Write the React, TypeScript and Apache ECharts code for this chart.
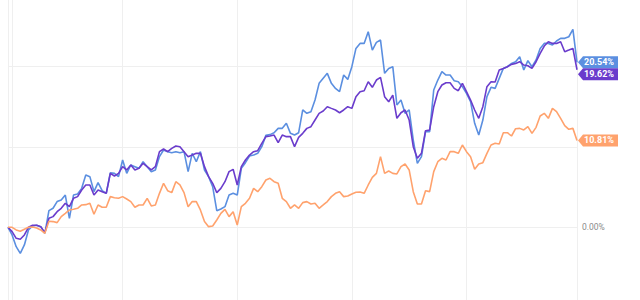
import React, { useEffect, useRef } from "react";
import * as echarts from "echarts";

const blueValues = [
  0, -0.95, -2.41, -3.24, -2.2, -0.33, 0.17, 0.25, 0.08, -0.75,
  2.07, 2.37, 3.2, 3.4, 4.02, 1.12, 4.02, 4.15, 4.85, 6.51,
  6.31, 4.44, 5.56, 4.56, 4.23, 6.8, 6.72, 6.31, 8.38, 6.72,
  7.76, 7.55, 7.34, 8.17, 7.55, 6.93, 7.14, 8.8, 9.63, 9.42,
  9.29, 9.42, 9.29, 9.42, 6.93, 9.21, 8.17, 9.42, 7.14, 6.31,
  5.06, 2.07, 2.28, 2.57, 4.02, 4.23, 4.02, 7.34, 8.05, 8.88,
  9.0, 9.21, 10.04, 11.45, 11.54, 11.78, 12.32, 12.32, 12.95, 11.7,
  11.49, 11.78, 14.61, 14.19, 14.4, 15.85, 17.93, 18.55, 19.17, 17.93,
  17.3, 16.89, 18.96, 18.42, 20.0, 22.28, 22.9, 22.9, 24.36, 22.07,
  23.03, 23.32, 19.17, 19.79, 20.0, 15.23, 15.85, 14.19, 14.61, 10.87,
  7.97, 8.8, 11.91, 11.91, 17.1, 18.34, 19.38, 18.96, 18.96, 18.26,
  18.13, 17.51, 16.68, 15.64, 12.95, 11.49, 13.36, 16.27, 17.43, 17.3,
  18.55, 19.79, 20.0, 20.41, 20.62, 21.24, 19.59, 20.75, 20.0, 20.83,
  22.28, 22.9, 22.9, 22.7, 23.2, 23.53, 23.53, 23.73, 24.65, 20.54,
];

const purpleValues = [
  0, -0.54, -1.37, -1.49, -0.95, 0, 0.25, 0.25, 0.08, -0.66,
  1.12, 1.33, 1.95, 2.37, 2.99, 2.57, 3.61, 3.82, 4.65, 5.27,
  5.27, 4.02, 4.65, 4.44, 4.23, 6.72, 6.39, 6.72, 7.55, 7.14,
  7.76, 7.14, 7.34, 7.97, 7.55, 7.14, 7.55, 9.42, 9.75, 9.42,
  9.83, 10.12, 10.04, 9.42, 8.8, 9.0, 9.21, 9.21, 7.55, 6.31,
  5.48, 4.32, 4.85, 5.68, 6.93, 7.22, 5.27, 7.55, 8.38, 9.0,
  9.42, 9.54, 10.46, 11.29, 11.37, 11.49, 10.54, 11.49, 11.29, 11.29,
  10.04, 11.2, 11.7, 12.32, 12.53, 13.36, 14.19, 14.48, 15.02, 14.81,
  14.61, 14.27, 14.61, 15.02, 14.81, 16.27, 16.89, 17.01, 18.13, 17.43,
  18.34, 18.67, 16.27, 15.64, 16.47, 13.57, 14.27, 14.61, 13.36, 10.04,
  8.59, 9.21, 12.03, 12.12, 15.02, 16.89, 17.72, 18.01, 18.01, 17.3,
  17.01, 17.93, 16.89, 15.85, 14.61, 13.57, 15.02, 17.51, 18.13, 18.09,
  19.59, 19.79, 20.0, 20.29, 20.41, 20.62, 20.21, 20.12, 19.79, 20.62,
  21.66, 22.57, 23.11, 22.9, 22.9, 23.11, 21.87, 22.07, 22.28, 19.62,
];

const orangeValues = [
  0, 0, -0.33, -0.5, -0.25, 0, 0.04, -0.08, -0.33, -0.75,
  0.75, 0.71, 0.58, 1.33, 1.74, 2.16, 2.24, 2.37, 2.78, 2.82,
  2.99, 1.62, 2.78, 2.49, 2.49, 3.82, 3.69, 3.61, 3.82, 3.53,
  3.2, 2.49, 2.78, 2.78, 3.61, 2.66, 2.78, 4.23, 5.48, 4.56,
  4.32, 5.68, 5.27, 4.32, 2.57, 3.2, 3.2, 2.16, 0.71, 0.08,
  0.17, 0.91, 1.74, 2.24, 1.33, 1.95, 0.29, 2.57, 2.99, 3.61,
  4.85, 4.44, 5.06, 5.89, 6.1, 5.68, 5.48, 3.61, 3.2, 2.37,
  2.78, 2.37, 3.07, 3.2, 2.9, 2.99, 2.37, 2.78, 3.2, 3.82,
  4.23, 4.44, 3.82, 3.9, 4.15, 4.36, 4.4, 4.23, 5.27, 6.22,
  6.72, 8.8, 6.72, 7.01, 6.72, 6.64, 7.55, 7.88, 7.14, 4.44,
  2.9, 2.9, 4.56, 4.44, 6.93, 8.17, 8.59, 8.38, 9.42, 9.42,
  9.21, 10.25, 9.42, 8.8, 7.22, 7.88, 8.05, 9.21, 10.25, 10.46,
  10.37, 11.78, 11.78, 11.37, 12.28, 12.32, 12.12, 12.53, 11.7, 12.45,
  13.86, 14.19, 13.57, 14.81, 14.4, 13.57, 12.66, 12.2, 12.32, 10.81,
];

// category labels: one per sample
const categories: string[] = blueValues.map((_, i) => "P" + (i + 1));
// category indices where the vertical (year) grid lines fall
const yearGridIdx = [1, 28, 56, 84, 112];
const yTicks = [-10, 0, 10, 20, 30];

const BLUE = "#5b8fe0";
const PURPLE = "#6a3ccc";
const ORANGE = "#ffa26d";
const GRID = "#efefef";

function makeSeries(name: string, values: number[], color: string, tagDy: number) {
  const last = values.length - 1;
  return {
    name,
    type: "line",
    data: values,
    showSymbol: false,
    symbol: "none",
    lineStyle: { color, width: 1.6 },
    itemStyle: { color },
    clip: false,
    markPoint: {
      symbol: "path://M0,6L5,0L40,0L40,12L5,12Z",
      symbolSize: [40, 12],
      symbolKeepAspect: false,
      symbolOffset: [21, tagDy],
      itemStyle: { color },
      label: {
        show: true,
        position: "inside",
        offset: [1, 0],
        color: "#ffffff",
        fontSize: 9,
        fontWeight: "bold",
        fontFamily: "Roboto",
        formatter: () => values[last].toFixed(2) + "%",
      },
      data: [{ coord: [categories[last], values[last]] }],
    },
  };
}

export default function App() {
  const ref = useRef<HTMLDivElement>(null);
  useEffect(() => {
    if (!ref.current) return;
    const chart = echarts.init(ref.current, null, { renderer: "svg" });
    chart.setOption({
      animation: false,
      backgroundColor: "#ffffff",
      grid: { left: 8, right: 63, top: -13.6, bottom: -7.6, outerBoundsMode: "none" },
      xAxis: {
        type: "category",
        data: categories,
        boundaryGap: false,
        axisLine: { show: false },
        axisTick: { show: false },
        axisLabel: { show: false },
        splitLine: {
          show: true,
          interval: (index: number) => yearGridIdx.includes(index),
          lineStyle: { color: GRID, width: 1 },
        },
      },
      yAxis: [
        {
          type: "value",
          position: "right",
          min: yTicks[0],
          max: yTicks[yTicks.length - 1],
          interval: 10,
          axisLine: { show: true, lineStyle: { color: GRID } },
          axisTick: { show: false },
          splitLine: { show: true, lineStyle: { color: GRID, width: 1 } },
          axisLabel: {
            margin: 5,
            color: "#8a8a8a",
            fontSize: 8.5,
            fontFamily: "Roboto",
            padding: [0, 0, 6, 0],
            formatter: (v: number) => (v === 0 ? "0.00%" : ""),
          },
        },
        {
          type: "value",
          position: "left",
          min: yTicks[0],
          max: yTicks[yTicks.length - 1],
          interval: 10,
          axisLine: { show: true, lineStyle: { color: GRID } },
          axisTick: { show: false },
          axisLabel: { show: false },
          splitLine: { show: false },
        },
      ],
      series: [
        makeSeries("Blue", blueValues, BLUE, 0),
        makeSeries("Purple", purpleValues, PURPLE, 4.5),
        makeSeries("Orange", orangeValues, ORANGE, 0),
      ],
    });
    return () => chart.dispose();
  }, []);
  return (
    <div
      ref={ref}
      style={{ position: "fixed", left: 0, top: 0, width: 640, height: 300 }}
    />
  );
}
